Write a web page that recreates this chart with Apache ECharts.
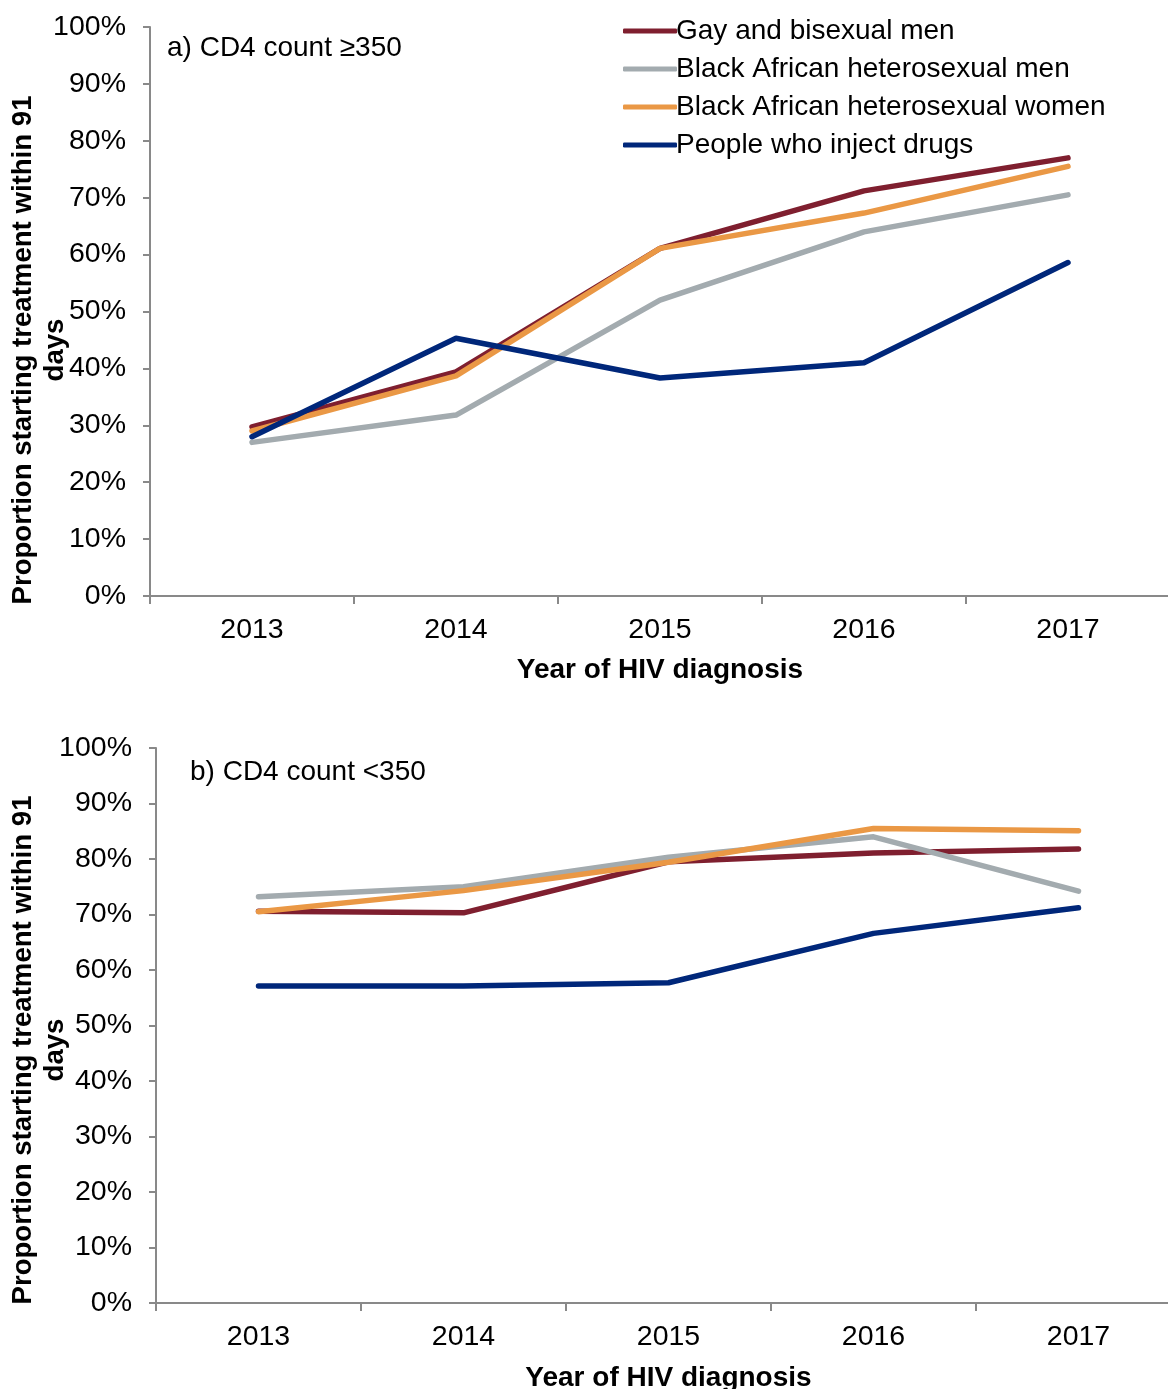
<!DOCTYPE html>
<html>
<head>
<meta charset="utf-8">
<title>Proportion starting treatment within 91 days</title>
<script src="https://cdn.jsdelivr.net/npm/echarts@6/dist/echarts.min.js"></script>
<style>
  html, body { margin: 0; padding: 0; background: #ffffff; }
  #chart { width: 1168px; height: 1389px; }
</style>
</head>
<body>
<div id="chart"></div>
<script>
// Year of HIV diagnosis
const years = ['2013', '2014', '2015', '2016', '2017'];
const seriesNames = [
  'Gay and bisexual men',
  'Black African heterosexual men',
  'Black African heterosexual women',
  'People who inject drugs'
];

// Panel a) CD4 count >= 350 (% starting treatment within 91 days)
const gbmHigh  = [29.7, 39.4, 61.1, 71.2, 77.0];
const bahmHigh = [27.0, 31.8, 52.0, 64.0, 70.5];
const bahwHigh = [29.0, 38.7, 61.1, 67.3, 75.5];
const pwidHigh = [28.0, 45.3, 38.3, 41.0, 58.6];

// Panel b) CD4 count < 350
const gbmLow  = [70.6, 70.3, 79.5, 81.1, 81.8];
const bahmLow = [73.2, 75.0, 80.3, 84.0, 74.2];
const bahwLow = [70.5, 74.3, 79.4, 85.5, 85.1];
const pwidLow = [57.1, 57.1, 57.7, 66.6, 71.2];

const panelTitles = ['a) CD4 count \u2265350', 'b) CD4 count <350'];
const yTitle = 'Proportion starting treatment within 91\ndays';
const xTitle = 'Year of HIV diagnosis';

const colors = ['#7f1f2f', '#a3abaf', '#ea9845', '#00277a'];
const FONT = "'Liberation Sans', Arial, Helvetica, sans-serif";
const axisGrey = '#898989';

const chart = echarts.init(document.getElementById('chart'), null, { renderer: 'canvas' });

function xAxisFor(gridIndex, gap) {
  return {
    type: 'category',
    gridIndex: gridIndex,
    data: years,
    boundaryGap: true,
    name: xTitle,
    nameLocation: 'middle',
    nameGap: gap,
    nameTextStyle: { fontFamily: FONT, fontSize: 28, fontWeight: 'bold', color: '#000' },
    axisLine: { show: true, lineStyle: { color: axisGrey, width: 2 } },
    axisTick: { show: true, length: 8, alignWithLabel: false, lineStyle: { color: axisGrey, width: 2 } },
    axisLabel: { fontFamily: FONT, fontSize: 28.5, color: '#000', margin: 20 },
    splitLine: { show: false }
  };
}

function yAxisFor(gridIndex) {
  return {
    type: 'value',
    gridIndex: gridIndex,
    min: 0,
    max: 100,
    interval: 10,
    axisLine: { show: true, lineStyle: { color: axisGrey, width: 2 } },
    axisTick: { show: true, length: 7, lineStyle: { color: axisGrey, width: 2 } },
    axisLabel: { fontFamily: FONT, fontSize: 28.5, color: '#000', margin: 24, formatter: '{value}%' },
    splitLine: { show: false }
  };
}

function lineSeries(name, data, idx, gridIndex) {
  return {
    type: 'line',
    name: name,
    data: data,
    xAxisIndex: gridIndex,
    yAxisIndex: gridIndex,
    symbol: 'none',
    showSymbol: false,
    silent: true,
    lineStyle: { color: colors[idx], width: 5.5, cap: 'round', join: 'round' },
    itemStyle: { color: colors[idx] },
    z: 2 + idx
  };
}

const panels = [
  [gbmHigh, bahmHigh, bahwHigh, pwidHigh],
  [gbmLow, bahmLow, bahwLow, pwidLow]
];

const series = [];
panels.forEach(function (sets, g) {
  sets.forEach(function (vals, i) {
    series.push(lineSeries(seriesNames[i], vals, i, g));
  });
});

const option = {
  backgroundColor: '#ffffff',
  animation: false,
  grid: [
    { left: 150, top: 27, width: 1020, height: 569, containLabel: false, outerBoundsMode: 'none' },
    { left: 156, top: 748, width: 1025, height: 555, containLabel: false, outerBoundsMode: 'none' }
  ],
  xAxis: [xAxisFor(0, 60), xAxisFor(1, 61)],
  yAxis: [yAxisFor(0), yAxisFor(1)],
  legend: {
    orient: 'vertical',
    left: 618,
    top: 12,
    icon: 'roundRect',
    itemWidth: 54,
    itemHeight: 5,
    itemGap: 10,
    data: seriesNames,
    selectedMode: false,
    textStyle: { fontFamily: FONT, fontSize: 28, color: '#000', lineHeight: 28, padding: [0, 0, 0, -6] }
  },
  graphic: [
    {
      type: 'text', left: 167, top: 34, silent: true,
      style: { text: panelTitles[0], fontFamily: FONT, fontSize: 28, fill: '#000' }
    },
    {
      type: 'text', left: 190, top: 758, silent: true,
      style: { text: panelTitles[1], fontFamily: FONT, fontSize: 28, fill: '#000' }
    },
    {
      type: 'text', x: 39, y: 350, rotation: Math.PI / 2, silent: true,
      style: {
        text: yTitle, fontFamily: FONT, fontSize: 27.6, fontWeight: 'bold', fill: '#000',
        align: 'center', verticalAlign: 'middle', lineHeight: 32
      }
    },
    {
      type: 'text', x: 39, y: 1050, rotation: Math.PI / 2, silent: true,
      style: {
        text: yTitle, fontFamily: FONT, fontSize: 27.6, fontWeight: 'bold', fill: '#000',
        align: 'center', verticalAlign: 'middle', lineHeight: 32
      }
    }
  ],
  series: series
};

chart.setOption(option);
</script>
</body>
</html>
